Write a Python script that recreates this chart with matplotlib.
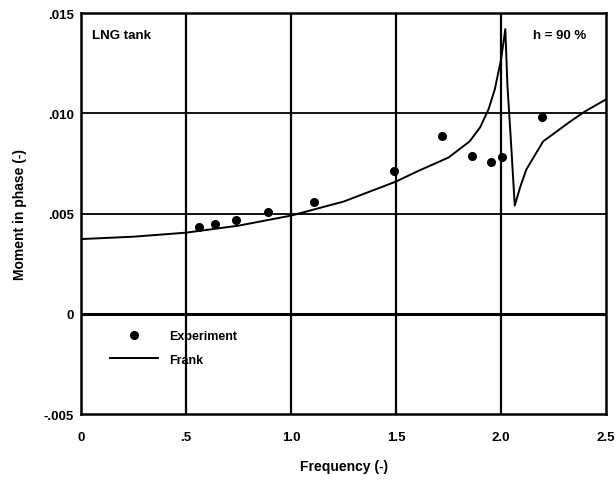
import numpy as np
import matplotlib.pyplot as plt

plt.rcParams['font.family'] = ['Liberation Sans', 'DejaVu Sans']
plt.rcParams['font.weight'] = 'bold'
plt.rcParams['axes.labelweight'] = 'bold'

# Experiment points (frequency, moment in phase)
exp_freq = [0.56, 0.64, 0.74, 0.89, 1.11, 1.49, 1.72, 1.86, 1.95, 2.005, 2.195]
exp_moment = [0.00433, 0.00448, 0.00468, 0.00507, 0.00557, 0.00711,
              0.00886, 0.00786, 0.00756, 0.00781, 0.0098]

# Frank theory curve
frank_freq = [0.0, 0.25, 0.5, 0.75, 1.0, 1.25, 1.5, 1.6, 1.75, 1.85, 1.9, 1.94,
              1.97, 2.0, 2.02, 2.03, 2.045, 2.065, 2.09, 2.12, 2.2, 2.33, 2.4, 2.5]
frank_moment = [0.00373, 0.00385, 0.00405, 0.0044, 0.0049, 0.0056, 0.0066, 0.0071,
                0.0078, 0.0086, 0.0093, 0.0102, 0.0112, 0.0127, 0.0142, 0.0114,
                0.0089, 0.0054, 0.0063, 0.0072, 0.0086, 0.0096, 0.0101, 0.0107]

x_ticks = [0, 0.5, 1.0, 1.5, 2.0, 2.5]
x_labels = ['0', '.5', '1.0', '1.5', '2.0', '2.5']
y_ticks = [-0.005, 0, 0.005, 0.010, 0.015]
y_labels = ['-.005', '0', '.005', '.010', '.015']

fig = plt.figure(figsize=(6.16, 4.85), dpi=100)
ax = fig.add_axes([0.1315, 0.144, 0.8525, 0.827])

# grid
for xv in [0.5, 1.0, 1.5, 2.0]:
    ax.axvline(xv, color='black', lw=1.6, zorder=1)
for yv in [0.005, 0.010]:
    ax.axhline(yv, color='black', lw=1.3, zorder=1)
ax.axhline(0, color='black', lw=2.2, zorder=1)

ax.plot(frank_freq, frank_moment, color='black', lw=1.4, label='Frank', zorder=3)
ax.plot(exp_freq, exp_moment, 'o', color='black', ms=5.5, label='Experiment', zorder=4)

ax.set_xlim(0, 2.5)
ax.set_ylim(-0.005, 0.015)
ax.set_xticks(x_ticks, x_labels)
ax.set_yticks(y_ticks, y_labels)
ax.tick_params(length=0, labelsize=9.5)
ax.tick_params(axis='x', pad=12)
ax.tick_params(axis='y', pad=5)
for s in ax.spines.values():
    s.set_linewidth(1.8)

ax.set_xlabel('Frequency (-)', fontsize=10, labelpad=12)
ax.set_ylabel('Moment in phase (-)', fontsize=10, labelpad=12)

ax.text(0.02, 0.945, 'LNG tank', transform=ax.transAxes, fontsize=9.5, va='center')
ax.text(0.962, 0.945, 'h = 90 %', transform=ax.transAxes, fontsize=9.5, va='center', ha='right')

handles, labels = ax.get_legend_handles_labels()
ax.legend(handles[::-1], labels[::-1], loc='center left', bbox_to_anchor=(0.033, 0.165),
          frameon=False, fontsize=9, handlelength=3.9, handletextpad=0.9, labelspacing=0.9)

fig.savefig('out.png', dpi=100)
